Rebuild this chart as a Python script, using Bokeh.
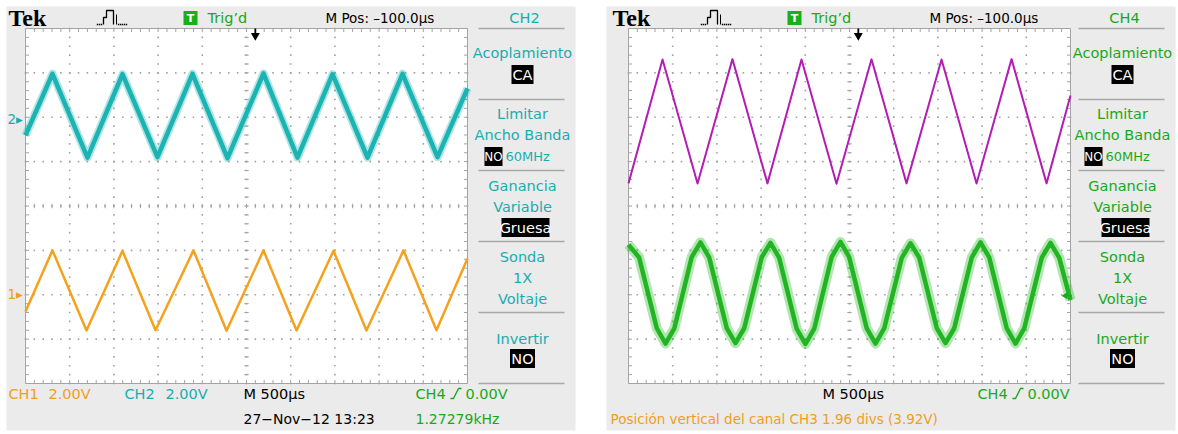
import numpy as np
from bokeh.plotting import figure
from bokeh.layouts import row
from bokeh.models import Range1d
from bokeh.core.properties import value
from bokeh.embed import file_html
from bokeh.resources import INLINE

# ---------------- data ----------------
US_PER_DIV = 500.0
M_POS_US = -100.0
VDIV = {"CH1": 2.0, "CH2": 2.0, "CH3": 2.0, "CH4": 2.0}
OFFSET_DIV = {"CH1": -1.99, "CH2": 1.97, "CH3": 1.96, "CH4": -2.02}
TRIG_LEVEL_V = 0.0

# time in microseconds from the left edge of the screen, value in volts
CH2_T = [0, 305, 701, 1097, 1493, 1889, 2285, 2692, 3077, 3473, 3869, 4265, 4661, 5000]
CH2_V = [-0.76, 2.02, -1.76, 2.00, -1.74, 2.02, -1.78, 2.04, -1.76, 2.00, -1.76, 2.02, -1.74, 1.36]
CH1_T = [0, 305, 690, 1097, 1471, 1900, 2274, 2692, 3066, 3484, 3857, 4276, 4649, 5000]
CH1_V = [-0.78, 1.98, -1.63, 1.96, -1.62, 1.98, -1.64, 1.98, -1.63, 1.96, -1.63, 1.98, -1.62, 1.61]
CH3_T = [0, 385, 781, 1176, 1572, 1957, 2353, 2749, 3145, 3541, 3937, 4333, 4729, 5000]
CH3_V = [-2.90, 2.68, -2.91, 2.70, -2.90, 2.68, -2.92, 2.69, -2.90, 2.68, -2.91, 2.70, -2.90, 1.06]
CH4_T = [0, 120, 320, 419, 518, 715, 814, 913, 1111, 1210, 1309, 1507, 1606, 1705, 1903, 2002,
         2101, 2299, 2398, 2497, 2695, 2794, 2893, 3091, 3190, 3289, 3487, 3586, 3685, 3883,
         3982, 4081, 4279, 4378, 4477, 4675, 4774, 4873, 5000]
CH4_V = [2.30, 1.72, -1.47, -2.16, -1.48, 1.74, 2.40, 1.72, -1.46, -2.14, -1.47, 1.73, 2.38, 1.70,
         -1.50, -2.18, -1.49, 1.75, 2.42, 1.73, -1.48, -2.16, -1.47, 1.70, 2.36, 1.71, -1.46, -2.14,
         -1.47, 1.72, 2.40, 1.72, -1.48, -2.16, -1.47, 1.71, 2.38, 1.70, -0.20]

FREQ_TEXT = "1.27279kHz"
DATE_TEXT = "27\u2212Nov\u221212 13:23"
STATUS_TEXT = "Posici\u00f3n vertical del canal CH3 1.96 divs (3.92V)"

# ---------------- style / layout ----------------
SX, SY = 44.2, 44.375          # px per division
CY_ABS = 205.5                 # screen centre (page px)
PANEL_BG = "#ebebeb"
GRID = "#a3a3a3"
SEP = "#a8a8a8"
CYAN_T, CYAN = "#1cb3b3", "#19adb0"
ORANGE_T, ORANGE = "#f5a11c", "#f09e1e"
MAGENTA_T = "#b41db4"
GREEN_T, GREEN = "#22b522", "#1aa81a"
FONT = "DejaVu Sans"
FS = 13.5
MFS = 14.5
TOP, BOTTOM = 6, 430


def panel(width, border_left, border_right, frame_left, frame_right, scr_left):
    X = lambda ax: (ax - scr_left) / SX
    Y = lambda ay: (CY_ABS - ay) / SY
    p = figure(width=width, height=434, output_backend="svg", toolbar_location=None, tools="",
               x_range=Range1d(X(frame_left), X(frame_right)), y_range=Range1d(Y(BOTTOM), Y(TOP)),
               x_axis_location=None, y_axis_location=None,
               min_border_left=border_left, min_border_right=border_right,
               min_border_top=TOP, min_border_bottom=434 - BOTTOM,
               background_fill_color=PANEL_BG, border_fill_color="white", outline_line_color=None)
    p.grid.visible = False
    return p, X, Y


def txt(p, X, Y, ax, ay, s, color, align="left", size=FS, font=FONT, style="normal"):
    p.text(x=[X(ax)], y=[Y(ay)], text=[s], text_color=color, text_align=align,
           text_baseline="middle", text_font=value(font), text_font_size=value(f"{size}px"),
           text_font_style=style)


def boxed(p, X, Y, cx, cy, w, s, size=MFS):
    p.rect(x=[X(cx)], y=[Y(cy)], width=w / SX, height=19 / SY, fill_color="black", line_color=None)
    txt(p, X, Y, cx, cy + 0.5, s, "white", align="center", size=size)


def screen(p):
    p.quad(left=[0], right=[10], bottom=[-4], top=[4], fill_color="white", line_color=GRID, line_width=1)
    xs, ys = [], []
    for i in range(1, 10):
        for k in range(41):
            xs.append(i); ys.append(-4 + 0.2 * k)
    for j in range(-3, 4):
        for k in range(51):
            xs.append(0.2 * k); ys.append(j)
    p.scatter(xs, ys, marker="square", size=1.6, fill_color=GRID, line_color=None)
    x0, y0, x1, y1 = [], [], [], []
    for k in range(1, 50):
        x = 0.2 * k
        x0 += [x, x, x]; x1 += [x, x, x]
        y0 += [4, -4, -2.2 / SY]; y1 += [4 - 3.5 / SY, -4 + 3.5 / SY, 2.2 / SY]
    for k in range(1, 40):
        y = -4 + 0.2 * k
        y0 += [y, y, y]; y1 += [y, y, y]
        x0 += [0, 10, 5 - 2.2 / SX]; x1 += [3.5 / SX, 10 - 3.5 / SX, 5 + 2.2 / SX]
    p.segment(x0=x0, y0=y0, x1=x1, y1=y1, line_color=GRID, line_width=1)


def trace(p, ch, t, v, color, width, halo=0):
    xs = [ti / US_PER_DIV for ti in t]
    ys = [OFFSET_DIV[ch] + vi / VDIV[ch] for vi in v]
    if halo:
        p.line(xs, ys, line_color=color, line_width=halo, line_join="round", line_alpha=0.35)
    p.line(xs, ys, line_color=color, line_width=width, line_join="round")


def ch_marker(p, X, ch, label, color):
    y = OFFSET_DIV[ch]
    p.text(x=[X(7)], y=[y], text=[label + "\u25b8"], text_color=color, text_baseline="middle",
           text_font=value(FONT), text_font_size=value(f"{FS}px"))


def header(p, X, Y, dx, ch_label, ch_color, menu_cx, menu_color):
    txt(p, X, Y, 8 + dx, 17, "Tek", "black", size=24, font="Liberation Serif", style="bold")
    # acquisition icon
    p.line([X(103 + dx), X(103 + dx), X(106 + dx), X(106 + dx), X(113 + dx), X(113 + dx)],
           [Y(24), Y(17), Y(17), Y(10), Y(10), Y(24)], line_color="black", line_width=1.3)
    p.segment(x0=[X(116 + dx)], y0=[Y(14)], x1=[X(116 + dx)], y1=[Y(24)], line_color="black", line_width=1)
    dots = [97, 99, 101, 118, 120, 122, 124, 126]
    p.scatter([X(d + dx) for d in dots], [Y(24)] * len(dots), marker="square", size=1.4,
              fill_color="black", line_color=None)
    # trig'd
    p.rect(x=[X(190 + dx)], y=[Y(17.5)], width=14 / SX, height=14 / SY, fill_color="#18b018", line_color=None)
    txt(p, X, Y, 190 + dx, 18, "T", "white", align="center", size=11, style="bold")
    txt(p, X, Y, 207 + dx, 17, "Trig\u2019d", GREEN, size=MFS)
    txt(p, X, Y, 325 + dx, 17, "M Pos: \u2013%.1f\u00b5s" % abs(M_POS_US), "black")
    txt(p, X, Y, menu_cx + 2, 17, ch_label, ch_color, align="center", size=MFS)
    # trigger position arrow
    tx = 5 - M_POS_US / US_PER_DIV
    p.segment(x0=[tx], y0=[Y(28)], x1=[tx], y1=[Y(34)], line_color="black", line_width=1.8)
    p.scatter(x=[tx], y=[Y(35)], marker="inverted_triangle", size=9, fill_color="black", line_color=None)
    # side menu
    c, col = menu_cx, menu_color
    seps = [28, 99, 170, 241, 312, 383]
    p.segment(x0=[X(c - 44)] * 6, y0=[Y(s) for s in seps], x1=[X(c + 42)] * 6, y1=[Y(s) for s in seps],
              line_color=SEP, line_width=1.5)
    txt(p, X, Y, c, 52, "Acoplamiento", col, align="center", size=MFS)
    boxed(p, X, Y, c, 74, 22, "CA")
    txt(p, X, Y, c, 113, "Limitar", col, align="center", size=MFS)
    txt(p, X, Y, c, 134, "Ancho Banda", col, align="center", size=MFS)
    boxed(p, X, Y, c - 29, 156, 18, "NO", size=12)
    txt(p, X, Y, c - 17, 156, "60MHz", col, size=13)
    txt(p, X, Y, c, 185, "Ganancia", col, align="center", size=MFS)
    txt(p, X, Y, c, 206, "Variable", col, align="center", size=MFS)
    boxed(p, X, Y, c + 3, 227, 48, "Gruesa")
    txt(p, X, Y, c, 256, "Sonda", col, align="center", size=MFS)
    txt(p, X, Y, c, 277, "1X", col, align="center", size=MFS)
    txt(p, X, Y, c, 298, "Voltaje", col, align="center", size=MFS)
    txt(p, X, Y, c, 338, "Invertir", col, align="center", size=MFS)
    boxed(p, X, Y, c, 358, 25, "NO")


def trig_status(p, X, Y, ax, ay):
    txt(p, X, Y, ax, ay, "CH4", GREEN, size=MFS)
    p.line([X(ax + 35), X(ax + 38), X(ax + 43), X(ax + 46)], [Y(ay + 5), Y(ay + 5), Y(ay - 5), Y(ay - 5)],
           line_color=GREEN, line_width=1.4)
    txt(p, X, Y, ax + 50, ay, "%.2fV" % TRIG_LEVEL_V, GREEN, size=MFS)


# ---------------- left screenshot ----------------
p1, X1, Y1 = panel(606, 6, 31, 6, 575, 25)
screen(p1)
trace(p1, "CH2", CH2_T, CH2_V, CYAN_T, 4.5, halo=8)
trace(p1, "CH1", CH1_T, CH1_V, ORANGE_T, 2.5)
ch_marker(p1, X1, "CH2", "2", CYAN)
ch_marker(p1, X1, "CH1", "1", ORANGE)
header(p1, X1, Y1, 0, "CH2", CYAN, 522, CYAN)
txt(p1, X1, Y1, 8, 393, "CH1", ORANGE, size=MFS)
txt(p1, X1, Y1, 48, 393, "%.2fV" % VDIV["CH1"], ORANGE, size=MFS)
txt(p1, X1, Y1, 124, 393, "CH2", CYAN, size=MFS)
txt(p1, X1, Y1, 165, 393, "%.2fV" % VDIV["CH2"], CYAN, size=MFS)
txt(p1, X1, Y1, 243, 393, "M %d\u00b5s" % US_PER_DIV, "black", size=MFS)
trig_status(p1, X1, Y1, 415, 393)
txt(p1, X1, Y1, 243, 418, DATE_TEXT, "black", size=14)
txt(p1, X1, Y1, 415, 418, FREQ_TEXT, GREEN, size=14)

# ---------------- right screenshot ----------------
p2, X2, Y2 = panel(572, 0, 3, 606, 1175, 628)
screen(p2)
trace(p2, "CH3", CH3_T, CH3_V, MAGENTA_T, 2.0)
trace(p2, "CH4", CH4_T, CH4_V, GREEN_T, 4.5, halo=10)
ch_marker(p2, X2, "CH3", "3", MAGENTA_T)
ch_marker(p2, X2, "CH4", "4", GREEN)
header(p2, X2, Y2, 604, "CH4", GREEN, 1122, GREEN)
ty = OFFSET_DIV["CH4"] + TRIG_LEVEL_V / VDIV["CH4"]
p2.scatter(x=[X2(1065)], y=[ty], marker="triangle", angle=np.pi / 2, size=7, fill_color=GREEN, line_color=None)
p2.segment(x0=[X2(1065)], y0=[ty], x1=[X2(1071)], y1=[ty], line_color=GREEN, line_width=1.5)
txt(p2, X2, Y2, 822, 393, "M %d\u00b5s" % US_PER_DIV, "black", size=MFS)
trig_status(p2, X2, Y2, 977, 393)
txt(p2, X2, Y2, 610, 418, STATUS_TEXT, ORANGE)

layout = row(p1, p2)
open("out.html", "w").write(file_html(layout, INLINE))
